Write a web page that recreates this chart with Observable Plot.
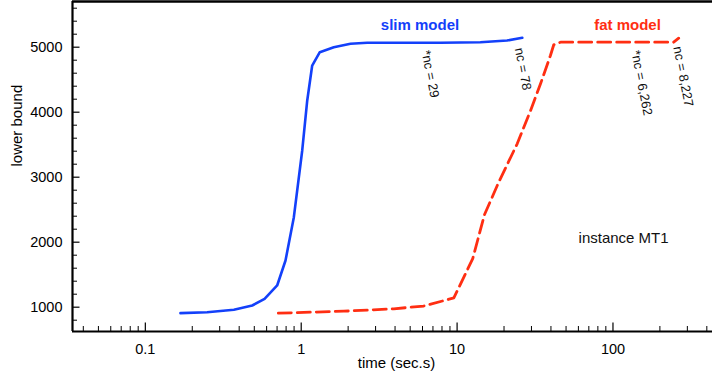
<!DOCTYPE html>
<html><head><meta charset="utf-8">
<script src="https://cdn.jsdelivr.net/npm/d3@7"></script>
<script src="https://cdn.jsdelivr.net/npm/@observablehq/plot@0.6"></script>
<style>body{margin:0;background:#fff;} svg{display:block}</style>
</head><body><div id="chart"></div>
<script>
// slim model (blue, solid)
const slimTime  = [0.168, 0.249, 0.370, 0.485, 0.582, 0.701, 0.793, 0.897, 1.015, 1.093, 1.176, 1.316, 1.618, 2.07, 2.65, 7.83, 14.1, 20.9, 26.2];
const slimBound = [908, 923, 960, 1026, 1129, 1334, 1718, 2385, 3411, 4180, 4718, 4923, 5000, 5052, 5068, 5068, 5077, 5103, 5145];
// fat model (red, dashed)
const fatTime  = [0.713, 1.876, 3.93, 6.11, 9.53, 12.6, 15.0, 18.5, 24.3, 29.6, 34.3, 39.7, 41.7, 46.1, 245, 264];
const fatBound = [908, 938, 975, 1018, 1142, 1748, 2426, 2923, 3514, 4026, 4437, 4872, 5037, 5077, 5077, 5138];

const xTickLabels = [0.1, 1, 10, 100];
const yTickLabels = [1000, 2000, 3000, 4000, 5000];

const seriesNames = ["slim model", "fat model"];
const seriesNameTime = [5.78, 124];
const seriesNameBound = [5334, 5334];

const ncLabels = ["*nc = 29", "nc = 78", "*nc = 6,262", "nc = 8,227"];
const ncTime = [6.28, 24.9, 139, 259];
const ncBound = [4950, 4990, 4950, 5010];

const noteText = ["instance MT1"];
const noteTime = [117];
const noteBound = [2057];

const xDomain = [0.0341, 435];
const yDomain = [626, 5703];

const BLUE = "#1340fa";
const RED = "#ff2e12";
const FONT = "'Liberation Sans', Arial, Helvetica, sans-serif";

// minor tick positions (axis decoration)
const xMinor = [];
for (let e = -2; e <= 2; e++) for (let m = 2; m <= 9; m++) {
  const v = m * Math.pow(10, e);
  if (v >= xDomain[0] && v <= xDomain[1]) xMinor.push(v);
}
const yMinor = d3.range(800, 5700, 200).filter(v => v % 1000 !== 0);

const slim = slimTime.map((t, i) => ({t, b: slimBound[i]}));
const fat = fatTime.map((t, i) => ({t, b: fatBound[i]}));
const names = seriesNames.map((s, i) => ({s, t: seriesNameTime[i], b: seriesNameBound[i], c: i === 0 ? BLUE : RED}));
const ncs = ncLabels.map((s, i) => ({s, t: ncTime[i], b: ncBound[i]}));
const notes = noteText.map((s, i) => ({s, t: noteTime[i], b: noteBound[i]}));

const W = 712, H = 377, ML = 72, MR = 0, MT = 1, MB = 46;
const frameW = W - ML - MR, frameH = H - MT - MB;

const chart = Plot.plot({
  width: W, height: H,
  marginLeft: ML, marginRight: MR, marginTop: MT, marginBottom: MB,
  style: {fontFamily: FONT, background: "#fff", color: "#000"},
  x: {type: "log", domain: xDomain},
  y: {type: "linear", domain: yDomain},
  marks: [
    // ticks (inward)
    Plot.tickX(xMinor, {x: d => d, insetTop: frameH - 5, stroke: "#000", strokeWidth: 1}),
    Plot.tickX(xTickLabels, {x: d => d, insetTop: frameH - 8.5, stroke: "#000", strokeWidth: 1.2}),
    Plot.tickY(yMinor, {y: d => d, insetRight: frameW - 5, stroke: "#000", strokeWidth: 1}),
    Plot.tickY(yTickLabels, {y: d => d, insetRight: frameW - 7.5, stroke: "#000", strokeWidth: 1.2}),
    // axis lines
    Plot.ruleX([xDomain[0]], {stroke: "#000", strokeWidth: 2.2}),
    Plot.ruleY([yDomain[0]], {stroke: "#000", strokeWidth: 2.2}),
    Plot.ruleY([yDomain[1]], {stroke: "#000", strokeWidth: 2.6}),
    // tick labels
    Plot.axisX({ticks: xTickLabels, tickSize: 0, tickPadding: 12, tickFormat: d => String(d), fontSize: 14.5, label: null}),
    Plot.axisY({ticks: yTickLabels, tickSize: 0, tickPadding: 10, tickFormat: d => String(d), fontSize: 14.5, label: null}),
    // axis titles
    Plot.text(["time (sec.s)"], {frameAnchor: "bottom", dx: 4, dy: 36, fontSize: 15, fill: "#000"}),
    Plot.text(["lower bound"], {frameAnchor: "left", dx: -55, rotate: -90, fontSize: 15, fill: "#000"}),
    // series
    Plot.line(slim, {x: "t", y: "b", stroke: BLUE, strokeWidth: 2.6, strokeLinejoin: "round", strokeLinecap: "round"}),
    Plot.line(fat, {x: "t", y: "b", stroke: RED, strokeWidth: 2.8, strokeDasharray: "13,6", strokeLinejoin: "round"}),
    // annotations
    Plot.text(names, {x: "t", y: "b", text: "s", fill: "c", fontWeight: "bold", fontSize: 15}),
    Plot.text(ncs, {x: "t", y: "b", text: "s", rotate: 79, textAnchor: "start", lineAnchor: "middle", fontSize: 13, fill: "#111"}),
    Plot.text(notes, {x: "t", y: "b", text: "s", fontSize: 15, fill: "#111"})
  ]
});
document.getElementById("chart").appendChild(chart);
</script>
</body></html>
